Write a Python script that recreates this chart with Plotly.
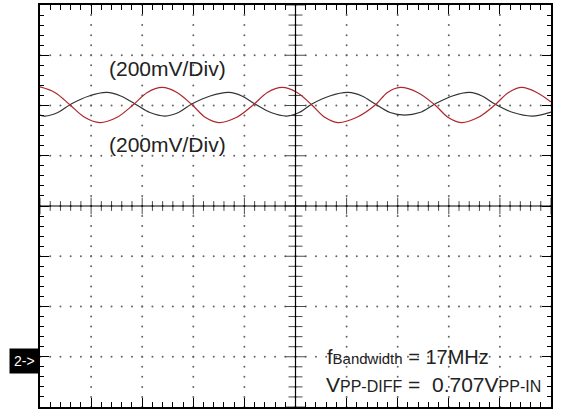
import plotly.graph_objects as go

# Waveform samples, in scope divisions (x: time div, y: vertical div, 200mV/div)
red_x = [0.00, 0.29, 0.59, 0.88, 1.17, 1.50, 1.82, 2.10, 2.39, 2.68, 2.98, 3.24,
         3.50, 3.84, 4.17, 4.45, 4.74, 5.03, 5.32, 5.58, 5.83, 6.19, 6.56, 6.80,
         7.05, 7.39, 7.73, 7.99, 8.24, 8.57, 8.90, 9.17, 9.43, 9.72, 10.00]
red_y = [2.37, 2.26, 2.01, 1.76, 1.66, 1.76, 2.01, 2.26, 2.36, 2.26, 2.01, 1.76,
         1.66, 1.76, 2.01, 2.26, 2.36, 2.26, 2.01, 1.76, 1.66, 1.76, 2.01, 2.26,
         2.36, 2.26, 2.01, 1.76, 1.66, 1.76, 2.01, 2.26, 2.36, 2.26, 2.07]

black_x = [0.00, 0.10, 0.35, 0.61, 0.96, 1.31, 1.58, 1.86, 2.15, 2.45, 2.71, 2.97,
           3.33, 3.70, 3.95, 4.21, 4.52, 4.83, 5.07, 5.32, 5.67, 6.03, 6.30, 6.56,
           6.85, 7.14, 7.43, 7.73, 8.07, 8.41, 8.65, 8.90, 9.26, 9.63, 10.00]
black_y = [1.81, 1.79, 1.86, 2.03, 2.19, 2.26, 2.19, 2.03, 1.86, 1.79, 1.86, 2.03,
           2.19, 2.26, 2.19, 2.03, 1.86, 1.79, 1.86, 2.03, 2.19, 2.26, 2.19, 2.03,
           1.86, 1.81, 1.86, 2.03, 2.19, 2.26, 2.19, 2.03, 1.86, 1.79, 1.87]

SUB1 = '<span style="font-size:15px">%s</span>'
SUB2 = '<span style="font-size:16px">%s</span>'
scale_label = "(200mV/Div)"
bw_label = "f" + SUB1 % "Bandwidth" + " = 17MHz"
vpp_label = "V" + SUB2 % "PP-DIFF" + " =\u00a0\u00a00.707V" + SUB2 % "PP-IN"
ground_label = "2->"

N_XDIV, N_YDIV, N_SUB = 10, 8, 5
FONT = "Liberation Sans, Arial, sans-serif"

fig = go.Figure()

# dotted graticule
dx, dy = [], []
for i in range(1, N_XDIV):
    for k in range(N_YDIV * N_SUB + 1):
        dx.append(i)
        dy.append(-N_YDIV / 2 + k / N_SUB)
for j in range(1, N_YDIV):
    for k in range(N_XDIV * N_SUB + 1):
        dx.append(k / N_SUB)
        dy.append(-N_YDIV / 2 + j)
fig.add_trace(go.Scatter(x=dx, y=dy, mode="markers", hoverinfo="skip",
                         marker=dict(size=2, color="#666666", line=dict(width=0))))

# centre crosshair ticks
hx = [k / N_SUB for k in range(N_XDIV * N_SUB + 1)]
fig.add_trace(go.Scatter(
    x=hx, y=[0] * len(hx), mode="markers", hoverinfo="skip",
    marker=dict(symbol="line-ns", size=[12 if k % N_SUB == 0 else 7 for k in range(len(hx))],
                line=dict(width=1, color="black"))))
vy = [-N_YDIV / 2 + k / N_SUB for k in range(N_YDIV * N_SUB + 1)]
fig.add_trace(go.Scatter(
    x=[N_XDIV / 2] * len(vy), y=vy, mode="markers", hoverinfo="skip",
    marker=dict(symbol="line-ew", size=[14 if k % N_SUB == 0 else 10 for k in range(len(vy))],
                line=dict(width=1, color="black"))))

fig.add_shape(type="line", x0=0, x1=N_XDIV, y0=0, y1=0, line=dict(color="black", width=1.2))
fig.add_shape(type="line", x0=N_XDIV / 2, x1=N_XDIV / 2, y0=-N_YDIV / 2, y1=N_YDIV / 2,
              line=dict(color="black", width=1.2))

# waveforms
fig.add_trace(go.Scatter(x=black_x, y=black_y, mode="lines", hoverinfo="skip",
                         line=dict(color="#333333", width=1.2, shape="spline")))
fig.add_trace(go.Scatter(x=red_x, y=red_y, mode="lines", hoverinfo="skip",
                         line=dict(color="#b0262a", width=1.2, shape="spline")))

fig.add_annotation(x=2.5, y=2.74, text=scale_label, showarrow=False,
                   font=dict(family=FONT, size=21, color="#222222"))
fig.add_annotation(x=2.5, y=1.23, text=scale_label, showarrow=False,
                   font=dict(family=FONT, size=21, color="#222222"))
fig.add_annotation(x=5.58, y=-3.0, text=bw_label, showarrow=False, xanchor="left",
                   yanchor="middle", font=dict(family=FONT, size=20, color="#222222"))
fig.add_annotation(x=5.56, y=-3.56, text=vpp_label, showarrow=False, xanchor="left",
                   yanchor="middle", font=dict(family=FONT, size=21, color="#222222"))
fig.add_annotation(xref="paper", yref="y", x=-0.0303, y=-3.08, text=ground_label,
                   showarrow=False, bgcolor="black", borderpad=4, xanchor="center",
                   font=dict(family=FONT, size=14, color="white"))

axis_common = dict(showgrid=False, zeroline=False, showticklabels=False,
                   ticks="inside", ticklen=9, tickwidth=1, tickcolor="black",
                   showline=True, linecolor="black", linewidth=1.5, mirror="ticks",
                   fixedrange=True)
fig.update_xaxes(range=[0, N_XDIV], dtick=1, tick0=0,
                 minor=dict(dtick=1 / N_SUB, ticks="inside", ticklen=5,
                            tickcolor="black", tickwidth=1),
                 **axis_common)
fig.update_yaxes(range=[-N_YDIV / 2, N_YDIV / 2], dtick=1, tick0=0,
                 minor=dict(dtick=1 / N_SUB, ticks="inside", ticklen=4,
                            tickcolor="black", tickwidth=1),
                 **axis_common)

fig.update_layout(width=565, height=411, margin=dict(l=40, r=14, t=5, b=4),
                  paper_bgcolor="white", plot_bgcolor="white", showlegend=False)

fig.write_html("out.html", config={"displayModeBar": False},
               post_script="document.body.style.margin='0';document.body.style.overflow='hidden';")
